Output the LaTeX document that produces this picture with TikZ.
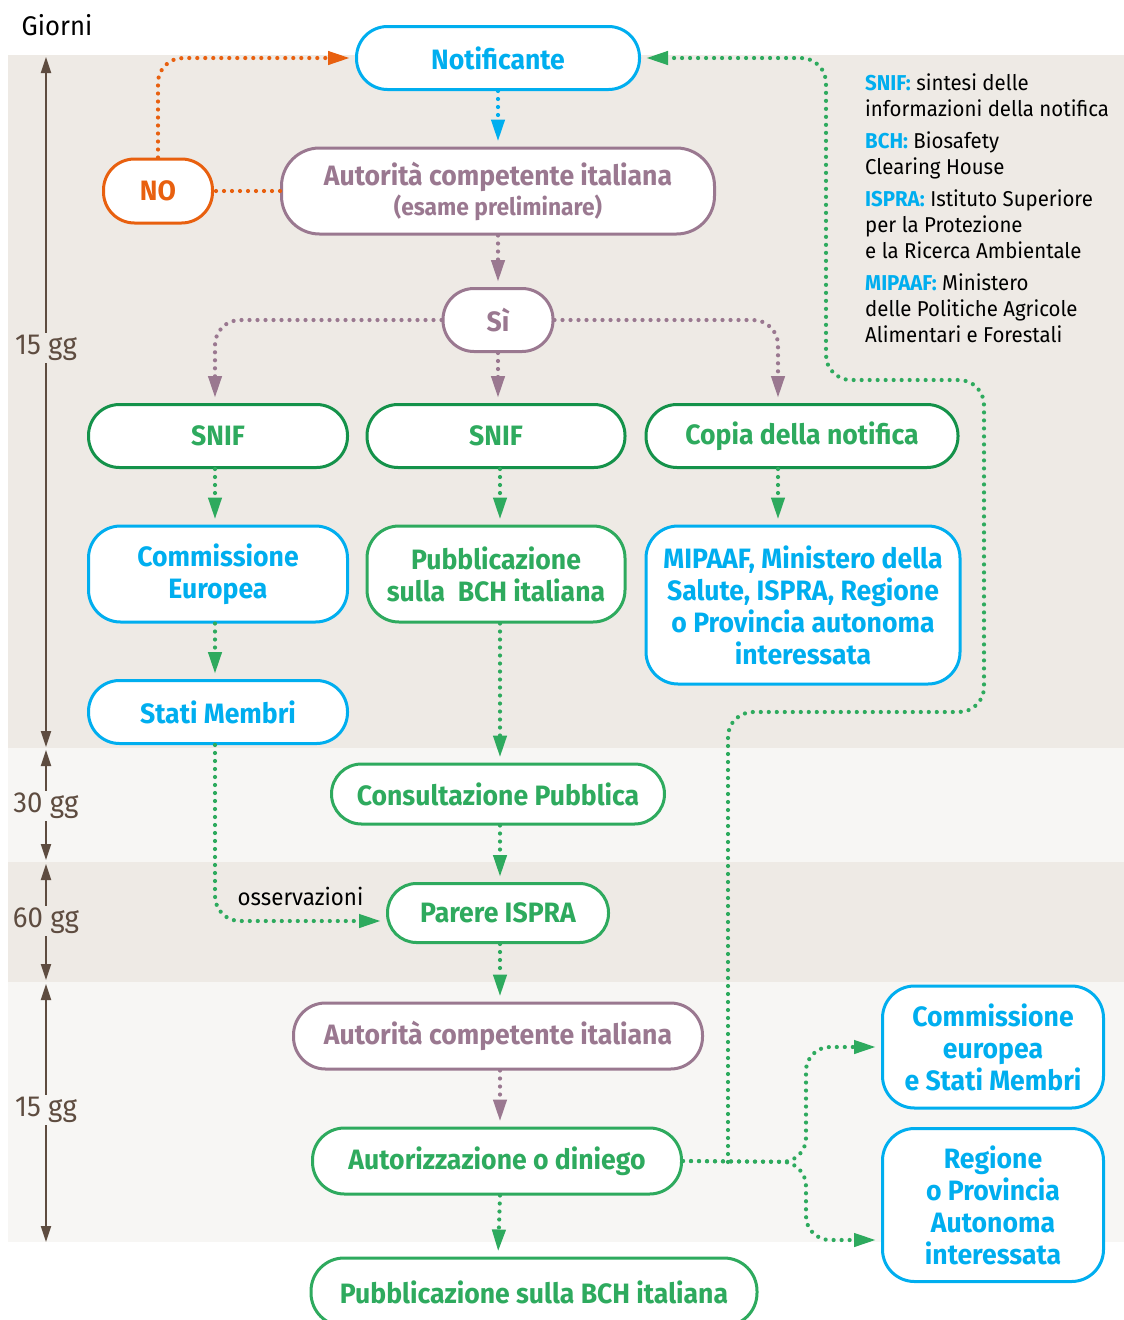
\documentclass[tikz,border=0pt]{standalone}
\usepackage{fontspec}
\setmainfont{Fira Sans}[FakeStretch=0.95]
\usetikzlibrary{arrows.meta}
\definecolor{cblue}{HTML}{00AEEF}
\definecolor{cgreen}{HTML}{2EAA5E}
\definecolor{cdgreen}{HTML}{14924A}
\definecolor{cmauve}{HTML}{9A7890}
\definecolor{corange}{HTML}{E8600F}
\definecolor{cbrown}{HTML}{5E4C40}
\definecolor{bandA}{HTML}{EEEAE5}
\definecolor{bandB}{HTML}{F7F6F4}
\tikzset{
  box/.style={draw, line width=3pt, fill=white, rounded corners=31pt, align=center, inner sep=0pt,
    font=\fontsize{28}{32}\selectfont\bfseries},
  bluebox/.style={box, draw=cblue, text=cblue},
  greenbox/.style={box, draw=cgreen, text=cgreen},
  dgreenbox/.style={box, draw=cdgreen, text=cgreen},
  mauvebox/.style={box, draw=cmauve, text=cmauve},
  orangebox/.style={box, draw=corange, text=corange},
  dots/.style={line width=4.2pt, dash pattern=on 0pt off 8pt, line cap=round},
  gc/.style={dots, draw=cgreen, -{Triangle[length=22pt,width=13pt,fill=cgreen]}, shorten >=5pt},
  bc/.style={dots, draw=cblue, -{Triangle[length=22pt,width=13pt,fill=cblue]}, shorten >=5pt},
  mc/.style={dots, draw=cmauve, -{Triangle[length=22pt,width=13pt,fill=cmauve]}, shorten >=5pt},
  oc/.style={dots, draw=corange, -{Triangle[length=22pt,width=13pt,fill=corange]}, shorten >=5pt},
  tl/.style={draw=cbrown, line width=2pt, {Triangle[length=16pt,width=10pt]}-{Triangle[length=16pt,width=10pt]}},
  tlabel/.style={text=cbrown, font=\fontsize{29}{32}\selectfont, inner sep=2pt},
}
\begin{document}
\begin{tikzpicture}[x=1pt,y=-1pt]
\useasboundingbox (0,0) rectangle (1124,1320);
% bands
\fill[bandA] (8,55) rectangle (1124,748);
\fill[bandB] (8,748) rectangle (1124,862);
\fill[bandA] (8,862) rectangle (1124,982);
\fill[bandB] (8,982) rectangle (1124,1242);

\node[font=\fontsize{27}{30}\selectfont, inner sep=0pt] (giorni) at (57,25) {Giorni};

% timeline
\coordinate (t1a) at (46,57);  \coordinate (t1b) at (46,747);
\coordinate (t2a) at (46,750); \coordinate (t2b) at (46,860);
\coordinate (t3a) at (46,864); \coordinate (t3b) at (46,980);
\coordinate (t4a) at (46,984); \coordinate (t4b) at (46,1242);
\draw[tl] (t1a) -- (t1b);
\draw[tl] (t2a) -- (t2b);
\draw[tl] (t3a) -- (t3b);
\draw[tl] (t4a) -- (t4b);
\node[tlabel, fill=bandA] (g1) at (46,348) {15 gg};
\node[tlabel, fill=bandB] (g2) at (46,806) {30 gg};
\node[tlabel, fill=bandA] (g3) at (46,921) {60 gg};
\node[tlabel, fill=bandB] (g4) at (46,1110) {15 gg};

% nodes
\node[bluebox, minimum width=283pt, minimum height=63pt] (notif) at (498,58) {Notificante};
\node[orangebox, minimum width=109pt, minimum height=64pt] (no) at (158,191) {NO};
\node[mauvebox, minimum width=433pt, minimum height=86pt, rounded corners=38pt] (aut1) at (498,191)
  {Autorità competente italiana\\[-2pt]{\fontsize{24}{26}\selectfont(esame preliminare)}};
\node[mauvebox, minimum width=110pt, minimum height=63pt] (si) at (498,320) {Sì};
\node[dgreenbox, minimum width=259pt, minimum height=63pt] (snif1) at (218,436) {SNIF};
\node[dgreenbox, minimum width=258pt, minimum height=63pt] (snif2) at (496,436) {SNIF};
\node[dgreenbox, minimum width=312pt, minimum height=63pt] (copia) at (802,436) {Copia della notifica};
\node[bluebox, minimum width=259pt, minimum height=96pt, rounded corners=32pt] (ce) at (218,574) {Commissione\\Europea};
\node[greenbox, minimum width=258pt, minimum height=96pt, rounded corners=32pt] (pub) at (496,574) {Pubblicazione\\sulla~~BCH italiana};
\node[bluebox, minimum width=314pt, minimum height=158pt, rounded corners=32pt] (mip) at (803,605)
  {MIPAAF, Ministero della\\Salute, ISPRA, Regione\\o Provincia autonoma\\interessata};
\node[bluebox, minimum width=259pt, minimum height=63pt] (sm) at (218,712) {Stati Membri};
\node[greenbox, minimum width=333pt, minimum height=60pt, rounded corners=30pt] (cons) at (498,794) {Consultazione Pubblica};
\node[greenbox, minimum width=221pt, minimum height=59pt, rounded corners=29pt] (par) at (498,913) {Parere ISPRA};
\node[mauvebox, minimum width=409pt, minimum height=66pt, rounded corners=32pt] (aut2) at (498,1036) {Autorità competente italiana};
\node[greenbox, minimum width=369pt, minimum height=66pt, rounded corners=32pt] (autz) at (497,1161) {Autorizzazione o diniego};
\node[greenbox, minimum width=446pt, minimum height=68pt, rounded corners=33pt] (pub2) at (534,1292) {Pubblicazione sulla BCH italiana};
\node[bluebox, minimum width=221pt, minimum height=122pt, rounded corners=32pt] (ceb) at (993,1047) {Commissione\\europea\\e Stati Membri};
\node[bluebox, minimum width=221pt, minimum height=153pt, rounded corners=32pt] (reg) at (993,1205) {Regione\\o Provincia\\Autonoma\\interessata};

% legend
\node[anchor=north west, align=left, inner sep=0pt, font=\fontsize{21.5}{26}\selectfont] (leg) at (865,74)
  {{\color{cblue}\bfseries SNIF:} sintesi delle\\ informazioni della notifica\\[6pt]
   {\color{cblue}\bfseries BCH:} Biosafety\\ Clearing House\\[6pt]
   {\color{cblue}\bfseries ISPRA:} Istituto Superiore\\ per la Protezione\\ e la Ricerca Ambientale\\[6pt]
   {\color{cblue}\bfseries MIPAAF:} Ministero\\ delle Politiche Agricole\\ Alimentari e Forestali};

% connectors
\draw[bc] (notif) -- (aut1);
\draw[mc] (aut1) -- (si);
\draw[mc] (si) -- (snif2.north -| si);
\draw[mc, rounded corners=25pt] (si.west) -| ([xshift=-3pt]snif1.north);
\draw[mc, rounded corners=25pt] (si.east) -| ([xshift=-24pt]copia.north);
\draw[oc, rounded corners=25pt] (no.north) |- (notif.west);
\draw[dots, draw=corange] (aut1.west) -- (no.east);
\draw[gc] ([xshift=-3pt]snif1.south) -- ([xshift=-3pt]ce.north);
\draw[gc] ([xshift=-3pt]ce.south) -- ([xshift=-3pt]sm.north);
\draw[gc] ([xshift=4pt]snif2.south) -- ([xshift=4pt]pub.north);
\draw[gc] ([xshift=-24pt]copia.south) -- ([xshift=-25pt]mip.north);
\draw[gc] ([xshift=4pt]pub.south) -- ([xshift=2pt]cons.north);
\draw[gc, rounded corners=25pt] ([xshift=-3pt]sm.south) |- ([yshift=-8pt]par.west) node[pos=0.75, above=10pt, text=black, font=\fontsize{23.5}{26}\selectfont] (oss) {osservazioni};
\draw[gc] ([xshift=2pt]cons.south) -- ([xshift=2pt]par.north);
\draw[gc] ([xshift=2pt]par.south) -- ([xshift=2pt]aut2.north);
\draw[mc] ([xshift=2pt]aut2.south) -- ([xshift=3pt]autz.north);
\draw[gc] ([xshift=3pt]autz.south) -- (pub2.north -| aut2.south);
\coordinate (j1) at (806,1162);
\draw[gc, rounded corners=24pt] (autz.east) -- (j1) |- (ceb.west);
\draw[gc, rounded corners=24pt] (autz.east) -- (j1) |- ([yshift=-35pt]reg.west);
\coordinate (l0) at (728,1162);
\coordinate (l1) at (728,712);
\coordinate (l2) at (984,712);
\coordinate (l3) at (984,380);
\coordinate (l4) at (826,380);
\coordinate (l5) at (826,58);
\draw[gc, rounded corners=25pt] (l0) -- (l1) -- (l2) -- (l3) -- (l4) -- (l5) -- (notif.east);
\end{tikzpicture}
\end{document}
